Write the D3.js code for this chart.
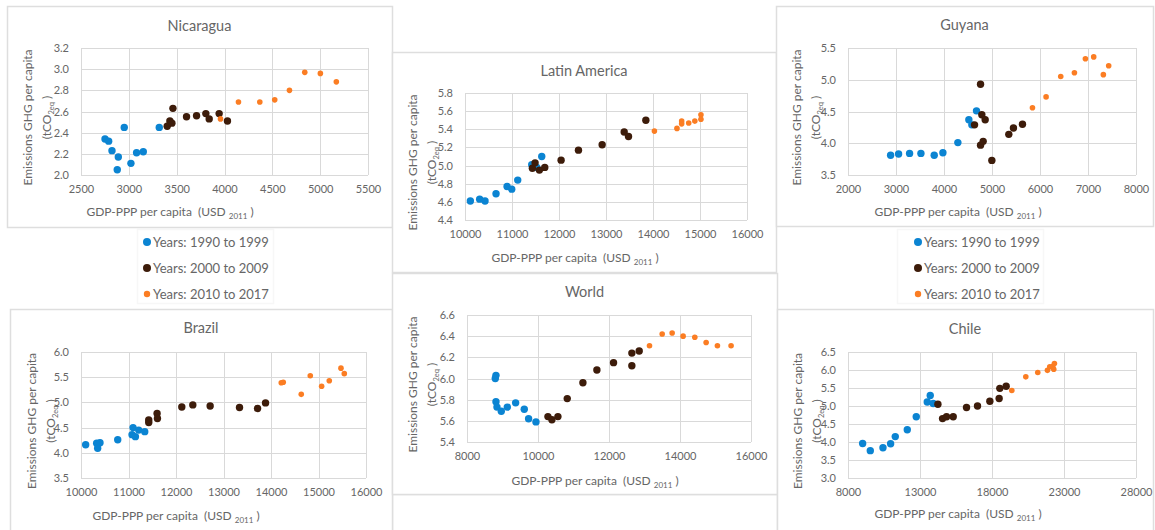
<!DOCTYPE html>
<html>
<head>
<meta charset="utf-8">
<script src="https://cdn.jsdelivr.net/npm/d3@7"></script>
<style>
    body { margin: 0; background: #fff; }
    svg text { font-family: Lato, "Open Sans", sans-serif; fill: #666; }
</style>
</head>
<body>
<div id="chart"></div>
<script>
    /*global d3 */

    // Legend / period definitions (points are stored 10 + 10 + 8 per country)
    var periods = ["Years: 1990 to 1999", "Years: 2000 to 2009", "Years: 2010 to 2017"],
        periodCounts = [10, 10, 8],
        periodColors = ["#0b84d2", "#3d1c0a", "#fb7d23"];

    // GDP-PPP per capita (USD 2011) and GHG emissions per capita (tCO2eq)
    var nicaraguaGdp = [2751, 2789, 2824, 2890, 2879, 2952, 3022, 3081, 3151, 3318,
        3401, 3429, 3450, 3461, 3603, 3708, 3805, 3840, 3944, 4031,
        3958, 4146, 4369, 4525, 4679, 4839, 5002, 5169];
    var nicaraguaGhg = [2.34, 2.32, 2.23, 2.17, 2.05, 2.45, 2.11, 2.21, 2.22, 2.45,
        2.46, 2.51, 2.49, 2.63, 2.55, 2.56, 2.58, 2.53, 2.58, 2.51,
        2.53, 2.69, 2.69, 2.71, 2.80, 2.97, 2.96, 2.88];

    var latamGdp = [10114, 10312, 10426, 10660, 10895, 10994, 11122, 11420, 11527, 11633,
        11434, 11491, 11583, 11697, 12045, 12414, 12918, 13387, 13479, 13848,
        14030, 14510, 14610, 14610, 14760, 14890, 15020, 15020];
    var latamGhg = [4.61, 4.63, 4.61, 4.69, 4.77, 4.74, 4.84, 5.01, 4.98, 5.10,
        4.97, 5.03, 4.95, 4.98, 5.06, 5.17, 5.23, 5.37, 5.32, 5.50,
        5.38, 5.41, 5.49, 5.46, 5.47, 5.49, 5.56, 5.51];

    var guyanaGdp = [2888, 3054, 3283, 3519, 3796, 3977, 4289, 4518, 4580, 4677,
        4636, 4761, 4761, 4788, 4816, 4858, 4997, 5350, 5447, 5635,
        5843, 6127, 6432, 6717, 6946, 7119, 7320, 7431];
    var guyanaGhg = [3.81, 3.83, 3.84, 3.84, 3.81, 3.85, 4.01, 4.37, 4.29, 4.51,
        4.29, 3.97, 4.93, 4.45, 4.03, 4.37, 3.73, 4.14, 4.24, 4.30,
        4.56, 4.73, 5.05, 5.11, 5.33, 5.36, 5.08, 5.22];

    var brazilGdp = [10098, 10330, 10351, 10400, 10773, 11075, 11096, 11145, 11215, 11342,
        11426, 11426, 11602, 11609, 12122, 12354, 12719, 13337, 13717, 13885,
        14216, 14258, 14637, 14827, 15066, 15227, 15473, 15543];
    var brazilGhg = [4.16, 4.19, 4.09, 4.20, 4.26, 4.36, 4.50, 4.32, 4.45, 4.42,
        4.65, 4.60, 4.78, 4.68, 4.91, 4.95, 4.93, 4.90, 4.88, 4.99,
        5.39, 5.40, 5.16, 5.53, 5.32, 5.43, 5.68, 5.57];

    var worldGdp = [8816, 8797, 8816, 8844, 8966, 9135, 9370, 9613, 9735, 9942,
        10280, 10392, 10561, 10824, 11265, 11659, 12128, 12644, 12644, 12851,
        13141, 13498, 13779, 14088, 14417, 14736, 15054, 15439];
    var worldGhg = [6.03, 6.00, 5.78, 5.73, 5.69, 5.73, 5.77, 5.71, 5.62, 5.59,
        5.64, 5.61, 5.64, 5.81, 5.96, 6.08, 6.15, 6.24, 6.12, 6.26,
        6.31, 6.42, 6.43, 6.40, 6.39, 6.34, 6.31, 6.31];

    var chileGdp = [9017, 9549, 10428, 10960, 11283, 12116, 12740, 13503, 13711, 13919,
        14243, 14566, 14844, 15306, 16231, 16994, 17850, 18497, 18543, 18983,
        19376, 20347, 21179, 21850, 22012, 22220, 22289, 22335];
    var chileGhg = [3.96, 3.76, 3.84, 3.95, 4.15, 4.34, 4.70, 5.11, 5.29, 5.07,
        5.05, 4.65, 4.70, 4.70, 4.96, 5.00, 5.13, 5.21, 5.49, 5.55,
        5.43, 5.81, 5.93, 5.99, 6.09, 6.10, 6.02, 6.18];

    // Panel layout: box = frame, plot = [left, top, right, bottom], axes = [min, max, step]
    var panels = [
        { name: "Nicaragua", gdp: nicaraguaGdp, ghg: nicaraguaGhg,
          box: [7, 6, 392, 227], plot: [81, 48, 368, 175],
          x: [2500, 5500, 500], y: [2.0, 3.2, 0.2],
          titleY: 26, xTitle: [170, 212], yTitleX: 28 },
        { name: "Latin America", gdp: latamGdp, ghg: latamGhg,
          box: [392, 52, 776, 272], plot: [465, 93, 747, 220],
          x: [10000, 16000, 1000], y: [4.4, 5.8, 0.2],
          titleY: 71, xTitle: [575, 258], yTitleX: 413 },
        { name: "Guyana", gdp: guyanaGdp, ghg: guyanaGhg,
          box: [776, 6, 1153, 226], plot: [848, 48, 1136, 175],
          x: [2000, 8000, 1000], y: [3.5, 5.5, 0.5],
          titleY: 25, xTitle: [958, 212], yTitleX: 797 },
        { name: "Brazil", gdp: brazilGdp, ghg: brazilGhg,
          box: [10, 309, 392, 545], plot: [81, 352, 366, 478],
          x: [10000, 16000, 1000], y: [3.5, 6.0, 0.5],
          titleY: 328, xTitle: [176, 516], yTitleX: 32 },
        { name: "World", gdp: worldGdp, ghg: worldGhg,
          box: [392, 273, 777, 494], plot: [467, 315, 751, 442],
          x: [8000, 16000, 2000], y: [5.4, 6.6, 0.2],
          titleY: 292, xTitle: [595, 481], yTitleX: 413 },
        { name: "Chile", gdp: chileGdp, ghg: chileGhg,
          box: [777, 309, 1153, 545], plot: [848, 352, 1136, 478],
          x: [8000, 28000, 5000], y: [3.0, 6.5, 0.5],
          titleY: 329, xTitle: [958, 514], yTitleX: 798 }
    ];

    var width = 1155,
        height = 530,
        gridColor = "#d9d9d9",
        textColor = "#666",
        svg;

    function periodOf(i) {
        var acc = 0, p;
        for (p = 0; p < periodCounts.length; p++) {
            acc += periodCounts[p];
            if (i < acc) { return p; }
        }
        return periodCounts.length - 1;
    }

    function prepareSvg() {
        svg = d3.select("#chart")
            .append("svg")
            .attr("width", width)
            .attr("height", height);
        svg.append("rect").attr("width", width).attr("height", height).attr("fill", "#fff");
    }

    function drawFrame(b, color) {
        svg.append("rect")
            .attr("x", b[0] + 0.5).attr("y", b[1] + 0.5)
            .attr("width", b[2] - b[0]).attr("height", b[3] - b[1])
            .attr("fill", "#fff")
            .attr("stroke", color)
            .attr("stroke-width", 1.5);
    }

    function displayPanel(panel) {
        var p = panel.plot,
            xTicks = d3.range(panel.x[0], panel.x[1] + panel.x[2] / 2, panel.x[2]),
            yTicks = d3.range(panel.y[0], panel.y[1] + panel.y[2] / 2, panel.y[2]),
            xScale = d3.scaleLinear().domain([panel.x[0], panel.x[1]]).range([p[0], p[2]]),
            yScale = d3.scaleLinear().domain([panel.y[0], panel.y[1]]).range([p[3], p[1]]),
            g, points, yMid, label;

        drawFrame(panel.box, "#dedede");
        g = svg.append("g");

        // gridlines
        g.selectAll("line.vgrid").data(xTicks).enter().append("line")
            .attr("class", "vgrid")
            .attr("x1", function (d) { return Math.round(xScale(d)) + 0.5; })
            .attr("x2", function (d) { return Math.round(xScale(d)) + 0.5; })
            .attr("y1", p[1]).attr("y2", p[3])
            .attr("stroke", gridColor);
        g.selectAll("line.hgrid").data(yTicks).enter().append("line")
            .attr("class", "hgrid")
            .attr("y1", function (d) { return Math.round(yScale(d)) + 0.5; })
            .attr("y2", function (d) { return Math.round(yScale(d)) + 0.5; })
            .attr("x1", p[0]).attr("x2", p[2])
            .attr("stroke", gridColor);

        // axes
        g.append("g")
            .attr("transform", "translate(0," + p[3] + ")")
            .call(d3.axisBottom(xScale).tickValues(xTicks).tickSize(0).tickPadding(10).tickFormat(d3.format("d")))
            .call(function (a) { a.select(".domain").remove(); })
            .selectAll("text").style("font-size", "11px").style("font-family", "Lato, sans-serif").attr("fill", textColor);
        g.append("g")
            .attr("transform", "translate(" + p[0] + ",0)")
            .call(d3.axisLeft(yScale).tickValues(yTicks).tickSize(0).tickPadding(12).tickFormat(d3.format(".1f")))
            .call(function (a) { a.select(".domain").remove(); })
            .selectAll("text").style("font-size", "11px").style("font-family", "Lato, sans-serif").attr("fill", textColor);

        // title
        svg.append("text")
            .attr("x", (panel.box[0] + panel.box[2]) / 2)
            .attr("y", panel.titleY + 5)
            .attr("text-anchor", "middle")
            .style("font-size", "14.5px")
            .text(panel.name);

        // x axis title
        label = svg.append("text")
            .attr("x", panel.xTitle[0])
            .attr("y", panel.xTitle[1] + 4)
            .attr("text-anchor", "middle")
            .style("font-size", "12px");
        label.append("tspan").text("GDP-PPP per capita\u00a0\u00a0(USD ");
        label.append("tspan").attr("dy", 3).style("font-size", "8px").text("2011");
        label.append("tspan").attr("dy", -3).text(" )");

        // y axis title (two lines)
        yMid = (p[1] + p[3]) / 2 + 6;
        svg.append("text")
            .attr("transform", "translate(" + (panel.yTitleX + 4) + "," + yMid + ") rotate(-90)")
            .attr("text-anchor", "middle")
            .style("font-size", "12px")
            .text("Emissions GHG per capita");
        label = svg.append("text")
            .attr("transform", "translate(" + (panel.yTitleX + 23) + "," + yMid + ") rotate(-90)")
            .attr("text-anchor", "middle")
            .style("font-size", "12px");
        label.append("tspan").text("(tCO");
        label.append("tspan").attr("dy", 3).style("font-size", "7.5px").text("2eq");
        label.append("tspan").attr("dy", -3).text(" )");

        // points
        points = panel.gdp.map(function (v, i) {
            return { gdp: v, ghg: panel.ghg[i], period: periodOf(i) };
        });
        g.selectAll("circle").data(points).enter().append("circle")
            .attr("cx", function (d) { return xScale(d.gdp); })
            .attr("cy", function (d) { return yScale(d.ghg); })
            .attr("r", function (d) { return d.period === 2 ? 2.8 : 3.7; })
            .style("fill", function (d) { return periodColors[d.period]; });
    }

    function displayLegend(x) {
        var rows = svg.append("g").selectAll("g").data(periods).enter().append("g")
            .attr("transform", function (d, i) { return "translate(" + x + "," + (242 + i * 26) + ")"; });
        rows.append("circle")
            .attr("r", function (d, i) { return i === 2 ? 3.2 : 4; })
            .style("fill", function (d, i) { return periodColors[i]; });
        rows.append("text")
            .attr("x", 6)
            .attr("dy", "0.36em")
            .style("font-size", "13px")
            .text(function (d) { return d; });
    }

    prepareSvg();
    // faint legend frames and the empty frame under World
    drawFrame([137, 229, 273, 303], "#f7f7f7");
    drawFrame([897, 229, 1043, 303], "#f7f7f7");
    drawFrame([392, 494, 777, 545], "#dedede");
    panels.forEach(displayPanel);
    displayLegend(147);
    displayLegend(918);
</script>
</body>
</html>
